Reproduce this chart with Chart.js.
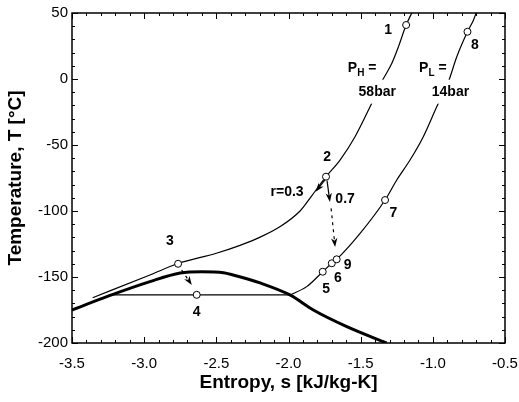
<!DOCTYPE html>
<html>
<head>
<meta charset="utf-8">
<script src="https://cdn.jsdelivr.net/npm/chart.js@4.4.0/dist/chart.umd.min.js"></script>
<style>
html, body { margin: 0; padding: 0; background: #fff; }
#wrap { width: 519px; height: 402px; }
</style>
</head>
<body>
<div id="wrap"><canvas id="tsChart" width="519" height="402"></canvas></div>
<script>
// entropy s [kJ/kg-K] / temperature T [°C]
const highS = [-3.357, -2.96, -2.765, -2.5, -2.336, -2.2, -2.06, -1.92, -1.839, -1.74, -1.643, -1.539, -1.435, -1.354, -1.284, -1.238, -1.185, -1.146];
const highT = [-165.7, -148.5, -139.8, -132, -126, -120, -112, -100, -88.5, -74, -61.4, -43.7, -21, -2, 11.9, 24.5, 40.9, 50];

const lowS = [-1.99, -1.874, -1.763, -1.70, -1.666, -1.504, -1.331, -1.25, -1.158, -1.066, -0.973, -0.892, -0.834, -0.76, -0.718, -0.70];
const lowT = [-163.6, -157.3, -146, -139.6, -136.6, -117, -91.7, -76.5, -61.4, -43.7, -21, -2, 16.9, 35.8, 44.7, 50];

const domeS = [-3.5, -3.25, -2.96, -2.75, -2.6, -2.45, -2.384, -2.197, -1.99, -1.828, -1.596, -1.343, -1.32];
const domeT = [-175, -164.5, -153.5, -147, -146, -146.8, -148.5, -154.5, -163.6, -175, -187.6, -199, -200];

const flashS = [-3.24, -1.99];
const flashT = [-163.5, -163.5];

const stateNames = ['1', '2', '3', '4', '5', '6', '7', '8', '9'];
const stateS = [-1.185, -1.74, -2.765, -2.636, -1.763, -1.70, -1.331, -0.76, -1.666];
const stateT = [40.9, -74, -140, -163.5, -146, -139.6, -91.7, 35.8, -136.6];

const xTicks = [-3.5, -3.0, -2.5, -2.0, -1.5, -1.0, -0.5];
const yTicks = [-200, -150, -100, -50, 0, 50];

const pts = (s, t) => s.map((v, i) => ({ x: v, y: t[i] }));

// text placed in data units
const notes = [
  { text: '1', s: -1.31, T: 37 },
  { text: '2', s: -1.733, T: -59 },
  { text: '3', s: -2.821, T: -123 },
  { text: '4', s: -2.636, T: -176.5 },
  { text: '5', s: -1.74, T: -159 },
  { text: '6', s: -1.657, T: -150.8 },
  { text: '7', s: -1.274, T: -101.7 },
  { text: '8', s: -0.708, T: 25.8 },
  { text: '9', s: -1.59, T: -140.9 },
  { text: 'r=0.3', s: -2.01, T: -86 },
  { text: '0.7', s: -1.608, T: -91.1 },
  { parts: [['P'], ['H', 1], [' =']], s: -1.49, T: 8.5 },
  { parts: [['P'], ['L', 1], [' =']], s: -1.0, T: 8.5 },
  { text: '58bar', s: -1.385, T: -9.6, knock: true },
  { text: '14bar', s: -0.878, T: -9.6, knock: true }
];

const arrows = [
  { from: [-1.745, -76], to: [-1.812, -85.4], dash: false },
  { from: [-1.733, -77], to: [-1.713, -93.2], dash: false },
  { from: [-1.705, -98], to: [-1.677, -127.3], dash: true },
  { from: [-2.74, -144.7], to: [-2.67, -156.1], dash: true }
];

function drawArrow(ctx, x1, y1, x2, y2, dash) {
  const a = Math.atan2(y2 - y1, x2 - x1);
  const c = Math.cos(a), s = Math.sin(a);
  const len = 9, half = 3.2;
  const bx = x2 - len * c, by = y2 - len * s;
  ctx.setLineDash(dash ? [3, 4] : []);
  ctx.beginPath();
  ctx.moveTo(x1, y1);
  ctx.lineTo(x2 - 5 * c, y2 - 5 * s);
  ctx.stroke();
  ctx.setLineDash([]);
  ctx.beginPath();
  ctx.moveTo(x2, y2);
  ctx.lineTo(bx - half * s, by + half * c);
  ctx.lineTo(x2 - len * 0.7 * c, y2 - len * 0.7 * s);
  ctx.lineTo(bx + half * s, by - half * c);
  ctx.closePath();
  ctx.fill();
}

// box and inward ticks (minor every 0.1 / 10 degC, major at the labels)
function drawBox(ctx, x, y) {
  const L = x.getPixelForValue(-3.5), R = x.getPixelForValue(-0.5);
  const T = y.getPixelForValue(50), B = y.getPixelForValue(-200);
  ctx.save();
  ctx.strokeStyle = '#000';
  ctx.lineWidth = 1;
  ctx.beginPath();
  for (let k = -35; k <= -5; k++) {
    const px = Math.round(x.getPixelForValue(k / 10)) + 0.5;
    const l = k % 5 === 0 ? 6 : 3;
    ctx.moveTo(px, B); ctx.lineTo(px, B - l);
    ctx.moveTo(px, T); ctx.lineTo(px, T + l);
  }
  for (let k = -20; k <= 5; k++) {
    const py = Math.round(y.getPixelForValue(k * 10)) + 0.5;
    const l = k % 5 === 0 ? 6 : 3;
    ctx.moveTo(L, py); ctx.lineTo(L + l, py);
    ctx.moveTo(R, py); ctx.lineTo(R - l, py);
  }
  ctx.stroke();
  ctx.lineWidth = 1.5;
  ctx.beginPath();
  ctx.rect(L, T, R - L, B - T);
  ctx.stroke();
  ctx.restore();
}

const decor = {
  id: 'decor',
  afterDatasetsDraw(chart) {
    const ctx = chart.ctx;
    const x = chart.scales.x, y = chart.scales.y;
    ctx.save();
    ctx.strokeStyle = '#000';
    ctx.fillStyle = '#000';
    ctx.lineWidth = 1.2;
    arrows.forEach(ar => {
      drawArrow(ctx, x.getPixelForValue(ar.from[0]), y.getPixelForValue(ar.from[1]),
        x.getPixelForValue(ar.to[0]), y.getPixelForValue(ar.to[1]), ar.dash);
    });

    ctx.textBaseline = 'middle';
    const big = 'bold 14px "Liberation Sans", Arial, sans-serif';
    const small = 'bold 10px "Liberation Sans", Arial, sans-serif';
    notes.forEach(n => {
      const px = x.getPixelForValue(n.s), py = y.getPixelForValue(n.T);
      const parts = n.parts || [[n.text]];
      let w = 0;
      parts.forEach(p => { ctx.font = p[1] ? small : big; w += ctx.measureText(p[0]).width; });
      if (n.knock) {
        ctx.fillStyle = '#fff';
        ctx.fillRect(px - w / 2 - 3, py - 12, w + 6, 24);
        ctx.fillStyle = '#000';
      }
      let cx = px - w / 2;
      ctx.textAlign = 'left';
      parts.forEach(p => {
        ctx.font = p[1] ? small : big;
        ctx.fillText(p[0], cx, p[1] ? py + 5 : py);
        cx += ctx.measureText(p[0]).width;
      });
    });

    // state points
    ctx.lineWidth = 1;
    stateS.forEach((sv, i) => {
      ctx.beginPath();
      ctx.arc(x.getPixelForValue(sv), y.getPixelForValue(stateT[i]), 3.5, 0, Math.PI * 2);
      ctx.fillStyle = '#fff';
      ctx.fill();
      ctx.stroke();
    });
    ctx.restore();
    drawBox(ctx, x, y);
  }
};

const lineSet = (data, width) => ({
  data: data,
  showLine: true,
  borderColor: '#000',
  borderWidth: width,
  pointRadius: 0,
  cubicInterpolationMode: 'monotone',
  fill: false
});

new Chart(document.getElementById('tsChart'), {
  type: 'scatter',
  data: {
    datasets: [
      lineSet(pts(domeS, domeT), 3),
      lineSet(pts(flashS, flashT), 1.2),
      lineSet(pts(highS, highT), 1.2),
      lineSet(pts(lowS, lowT), 1.2)
    ]
  },
  options: {
    responsive: false,
    animation: false,
    layout: { padding: { top: 13, right: 0, left: 0, bottom: 0 } },
    plugins: { legend: { display: false }, tooltip: { enabled: false } },
    scales: {
      x: {
        type: 'linear',
        min: -3.5,
        max: -0.5,
        afterFit: s => { s.height = 59; s.paddingLeft = 0; s.paddingRight = 14; },
        afterBuildTicks: s => { s.ticks = xTicks.map(v => ({ value: v })); },
        grid: { display: false, drawTicks: false },
        border: { display: false },
        ticks: {
          color: '#000',
          padding: 12,
          maxRotation: 0,
          autoSkip: false,
          font: { family: '"Liberation Sans", Arial, sans-serif', size: 15 },
          callback: v => v.toFixed(1)
        },
        title: {
          display: true,
          text: 'Entropy, s [kJ/kg-K]',
          color: '#000',
          padding: { top: 0, bottom: 8 },
          font: { family: '"Liberation Sans", Arial, sans-serif', size: 19, weight: 'bold' }
        }
      },
      y: {
        type: 'linear',
        min: -200,
        max: 50,
        afterFit: s => { s.width = 72; },
        afterBuildTicks: s => { s.ticks = yTicks.map(v => ({ value: v })); },
        grid: { display: false, drawTicks: false },
        border: { display: false },
        ticks: {
          color: '#000',
          padding: 4,
          autoSkip: false,
          font: { family: '"Liberation Sans", Arial, sans-serif', size: 15 }
        },
        title: {
          display: true,
          text: 'Temperature, T [°C]',
          color: '#000',
          padding: { top: 4, bottom: 0 },
          font: { family: '"Liberation Sans", Arial, sans-serif', size: 19, weight: 'bold' }
        }
      }
    }
  },
  plugins: [decor]
});
</script>
</body>
</html>
